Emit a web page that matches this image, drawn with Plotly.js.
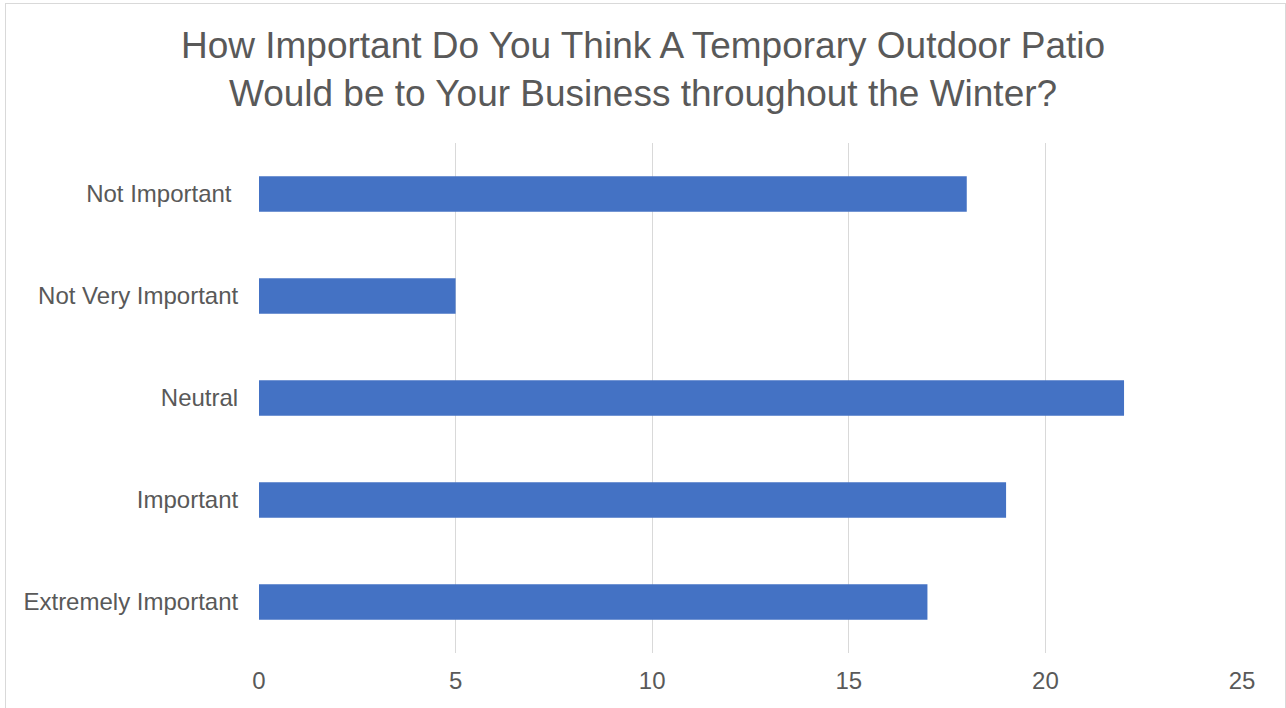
<!DOCTYPE html>
<html><head><meta charset="utf-8">
<script src="https://cdn.plot.ly/plotly-3.0.1.min.js"></script>
<style>
html,body{margin:0;padding:0;background:#fff;}
#wrap{position:relative;width:1286px;height:708px;overflow:hidden;}
#frame{position:absolute;left:5px;top:3px;width:1281px;height:720px;border:1.5px solid #d9d9d9;box-sizing:border-box;pointer-events:none;}
#chart{width:1286px;height:708px;}
</style>
</head><body>
<div id="wrap"><div id="chart"></div><div id="frame"></div></div>
<script>
const categories = ["Not Important ", "Not Very Important", "Neutral", "Important", "Extremely Important"];
const values = [18, 5, 22, 19, 17];
const tickVals = [0, 5, 10, 15, 20, 25];

Plotly.newPlot('chart', [{
  type: 'bar',
  orientation: 'h',
  y: categories,
  x: values,
  marker: {color: '#4472C4'},
  width: 0.35,
  hoverinfo: 'x+y'
}], {
  width: 1286, height: 708,
  margin: {l: 259, r: 44, t: 143, b: 55},
  paper_bgcolor: '#fff', plot_bgcolor: '#fff',
  font: {family: 'Liberation Sans, Arial, sans-serif', color: '#595959', size: 24},
  title: {text: 'How Important Do You Think A Temporary Outdoor Patio<br>Would be to Your Business throughout the Winter?',
    font: {size: 37, color: '#595959'}, x: 0.5, xanchor: 'center', yref: 'container', y: 1 - 58 / 708, yanchor: 'middle'},
  xaxis: {range: [0, 25], tickvals: tickVals, showgrid: true, gridcolor: '#d9d9d9', gridwidth: 1.3,
    zeroline: false, showline: false, ticks: 'outside', ticklen: 6, tickcolor: 'rgba(0,0,0,0)',
    tickfont: {size: 24, color: '#595959'}, fixedrange: true},
  yaxis: {autorange: 'reversed', type: 'category', showgrid: false, zeroline: false, showline: false,
    ticks: 'outside', ticklen: 15, tickcolor: 'rgba(0,0,0,0)', tickfont: {size: 24, color: '#595959'}},
  showlegend: false,
  bargap: 0.65
}, {displayModeBar: false, staticPlot: true});
</script>
</body></html>
